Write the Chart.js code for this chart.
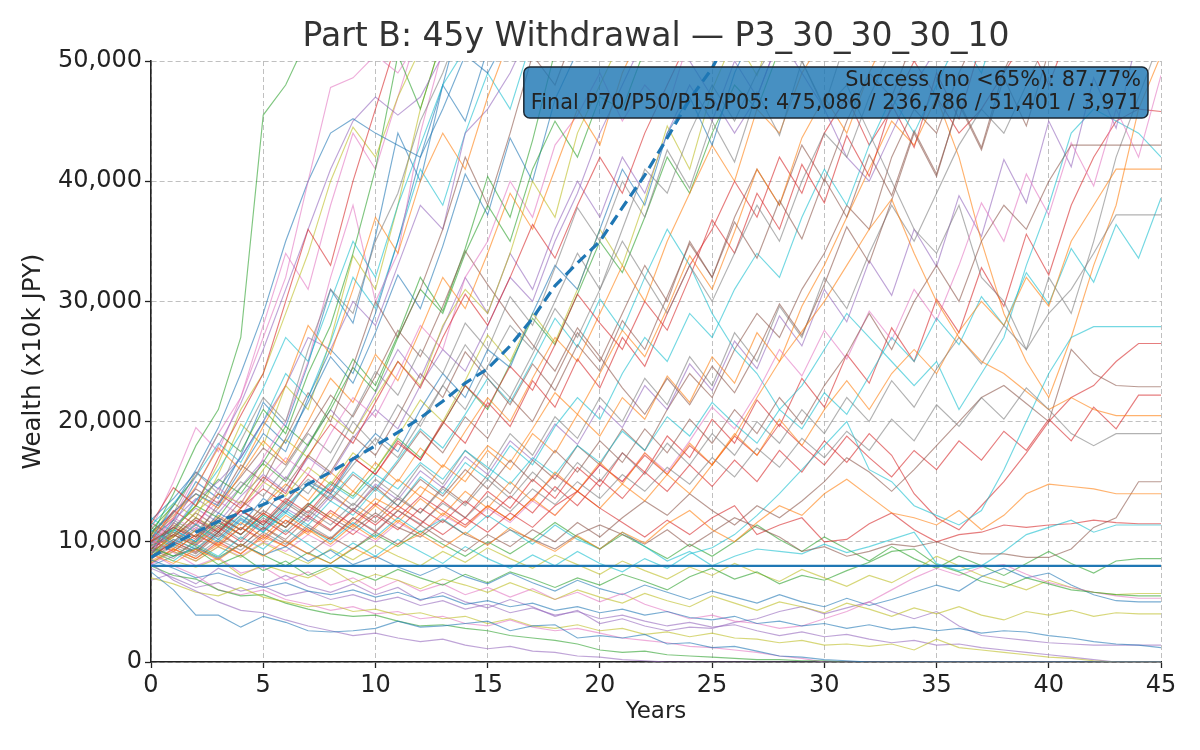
<!DOCTYPE html>
<html>
<head>
<meta charset="utf-8">
<script src="https://cdn.jsdelivr.net/npm/chart.js@4.4.1/dist/chart.umd.min.js"></script>
<style>
  html, body { margin: 0; padding: 0; background: #fff; }
  #wrap { width: 1200px; height: 750px; }
</style>
</head>
<body>
<div id="wrap"><canvas id="wealthChart"></canvas></div>
<script>
// values in thousands of (x10k JPY)
const UNIT = 1000;
const YEARS = [0,1,2,3,4,5,6,7,8,9,10,11,12,13,14,15,16,17,18,19,20,21,22,23,24,25,26,27,28,29,30,31,32,33,34,35,36,37,38,39,40,41,42,43,44,45];
const Y_TICKS = [0, 10000, 20000, 30000, 40000, 50000];
const THRESHOLD = 8.0;

const MEDIAN = [8.7,9.8,10.8,11.7,12.4, 13.1,13.9,14.8,15.8,16.9, 18.0,19.1,20.3,21.7,23.2, 24.4,26.3,28.6,31.3,33.2, 35.0,37.8,40.5,43.6,46.8, 49.4,53,57,62,67, 72,78,84,90,97, 104,112,121,131,142, 154,168,183,199,217, 237];

const LOW_PATHS = [
  [7.5,6.0,3.9,3.9,2.9, 3.8,3.3,2.6,2.5,2.6, 2.8,3.4,2.9,3.0,3.2, 3.4,2.6,3.0,3.1,2.0, 2.2,2.0,2.3,1.5,1.6, 1.2,1.3,0.9,0.5,0.4, 0.2,0.1,0,0,0, 0,0,0,0,0, 0,0,0,0,0, 0],
  [8.2,6.8,5.9,5.0,4.3, 4.1,3.5,3.0,2.6,2.2, 2.4,2.0,1.7,1.9,1.4, 1.1,1.3,0.9,0.8,0.5, 0.4,0.2,0.1,0,0, 0,0,0,0,0, 0,0,0,0,0, 0,0,0,0,0, 0,0,0,0,0, 0],
  [7.0,6.5,5.8,5.5,6.2, 5.4,5.0,4.6,4.8,4.2, 4.4,3.9,4.1,3.6,3.8, 3.2,3.6,3.0,2.8,3.1, 2.6,2.8,2.3,2.5,2.1, 2.4,2.0,1.9,1.6,1.8, 1.4,1.5,1.3,1.5,1.0, 1.9,1.2,1.0,0.8,0.6, 0.4,0.3,0.1,0,0, 0],
  [8.0,7.2,6.9,6.0,5.5, 5.6,4.9,4.4,4.0,3.8, 3.9,3.4,3.0,3.1,2.8, 2.6,2.2,2.0,1.8,1.5, 1.0,0.8,0.9,0.6,0.5, 0.4,0.3,0.2,0.2,0.1, 0.1,0,0,0,0, 0,0,0,0,0, 0,0,0,0,0, 0],
  [9.0,8.0,7.2,6.0,5.6, 6.0,5.2,4.8,4.3,4.6, 4.0,4.2,3.6,3.8,3.2, 3.0,3.5,2.9,2.6,2.8, 2.4,2.0,1.8,1.6,1.3, 1.2,1.0,0.8,0.5,0.3, 0,0,0,0,0, 0,0,0,0,0, 0,0,0,0,0, 0],
  [8.5,7.8,7.0,7.4,6.8, 6.2,6.6,5.9,5.6,6.0, 5.4,5.8,5.2,5.5,4.8, 5.1,4.6,4.9,4.3,4.6, 4.1,4.4,3.9,4.2,3.7, 3.5,3.8,3.2,3.4,3.0, 3.2,2.8,3.1,2.7,2.9, 2.6,2.8,2.4,2.6,2.5, 2.2,2.0,1.7,1.5,1.4, 1.2],
  [7.8,7.0,6.2,6.6,5.9, 6.3,5.5,5.9,5.2,5.6, 5.0,5.4,4.7,5.1,4.4, 4.8,4.1,4.5,3.9,4.2, 3.6,3.9,3.4,3.0,3.3, 2.9,3.1,2.6,2.2,2.5, 2.1,2.3,1.9,1.6,1.8, 1.4,1.5,1.2,1.0,0.8, 0.6,0.4,0.2,0,0, 0],
  [9.2,8.4,7.9,8.6,7.2, 8.1,7.5,7.0,7.8,6.6, 7.3,6.8,6.1,6.9,6.4, 5.8,6.6,5.9,5.2,6.0, 5.4,4.9,5.7,5.1,4.6, 5.5,4.9,4.3,5.0,4.6, 4.1,4.9,4.4,3.8,4.5, 4.0,4.6,3.9,3.5,4.2, 3.9,4.3,3.8,4.1,4.0, 4.0],
  [9.5,8.8,9.4,8.1,8.9, 7.6,8.4,7.2,8.0,7.5, 6.8,7.7,7.0,6.4,7.3, 6.6,7.5,6.9,6.2,7.0, 6.4,7.3,6.7,6.0,7.1, 7.8,6.9,7.5,6.5,7.2, 6.8,7.6,8.3,9.2,9.4, 8.1,7.5,6.7,6.2,7.0, 6.5,6.0,5.8,5.6,5.5, 5.5],
  [10.2,9.1,8.0,8.7,7.4, 7.9,6.8,7.5,6.4,7.0, 6.0,6.8,5.9,6.5,5.6, 6.2,5.4,6.1,5.2,5.8, 5.0,5.7,4.8,4.2,3.6, 3.9,3.4,3.2,2.8,3.0, 3.6,4.2,5.0,6.0,7.0, 7.8,7.2,7.9,8.1,7.3, 6.6,6.2,5.8,5.5,5.3, 5.3],
  [8.0,8.8,9.5,8.6,9.8, 8.9,9.6,8.4,9.3,8.1, 8.8,7.9,7.2,8.0,7.1, 6.5,7.4,6.6,5.9,6.8, 6.1,5.6,6.4,5.8,5.2, 5.9,5.4,4.9,5.6,5.0, 4.6,5.3,4.7,5.2,5.8, 6.4,5.9,7.1,7.8,7.0, 7.4,6.4,5.6,5.1,5.0, 5.0],
  [6.8,7.4,6.5,7.8,7.0, 6.4,7.2,6.3,5.8,6.5, 5.6,6.2,5.1,5.8,5.0, 4.5,5.2,4.6,3.8,4.3, 3.2,3.6,3.0,2.6,2.9, 2.8,3.3,3.6,4.2,4.6, 4.0,4.5,5.0,4.2,3.6, 4.2,3.0,2.2,2.0,1.8, 1.6,1.5,1.4,1.4,1.4, 1.4],
  [8.3,9.2,8.4,9.6,8.7, 9.9,9.0,8.2,9.4,8.5, 9.7,8.8,8.0,9.2,8.3, 9.5,8.6,7.8,8.9,8.1, 7.3,8.4,7.6,6.9,7.9, 7.2,8.2,7.4,6.7,7.7, 7.0,6.3,7.2,6.6,7.6, 8.8,8.0,7.2,6.6,6.0, 6.8,6.2,5.8,5.6,5.7, 5.7],
  [9.7,10.6,9.6,8.7,9.8, 8.9,8.0,9.1,8.2,9.4, 10.6,9.6,10.9,9.8,8.8, 10.0,9.0,10.2,11.6,10.4, 9.4,10.6,9.6,8.6,9.8, 8.8,10.0,11.4,10.2,9.2, 10.4,9.4,8.4,9.6,8.6, 7.8,8.8,8.0,7.2,8.2, 9.2,8.2,7.4,8.4,8.6, 8.6]
];

const MID_PATHS = [
  [9.0,8.2,9.4,8.5,9.8, 8.8,10.1,9.0,8.2,9.5, 8.6,9.8,10.6,9.5,10.8, 9.7,11.2,10.1,9.2,10.5, 9.4,10.8,9.9,11.5,12.6, 11.0,10.0,11.6,13.0,12.2, 14.0,15.2,13.8,12.4,12.0, 11.4,12.6,11.0,12.2,14.0, 14.8,14.6,14.4,14.0,14.0, 14.0],
  [10.0,11.2,10.4,12.0,11.0, 12.6,11.5,13.2,12.0,11.0, 12.4,11.2,10.4,11.8,10.6, 9.8,11.0,10.2,9.4,10.6, 11.4,10.6,9.8,11.0,9.6, 10.8,12.0,11.2,10.4,9.2, 9.6,8.8,9.2,9.8,9.6, 10.0,9.3,9.0,9.0,8.7, 8.7,9.4,11.2,12.0,15.0, 15.0],
  [11.0,9.8,11.5,10.2,12.0, 10.8,12.4,11.2,10.0,11.6, 10.4,12.0,10.8,11.9,10.6, 12.2,11.0,9.8,11.4,10.2, 9.4,10.8,9.6,8.4,9.2, 8.0,8.8,9.4,9.2,9.0, 9.8,9.1,9.6,10.2,10.8, 8.2,7.6,8.0,9.2,10.6, 11.2,11.8,10.8,11.4,11.4, 11.4],
  [9.4,10.6,9.7,11.2,10.0, 11.8,10.6,12.2,11.0,12.6, 11.4,13.0,11.8,10.6,12.0, 10.8,12.4,11.2,13.0,14.2, 12.8,11.6,10.4,11.8,10.6, 12.0,13.0,10.6,11.4,12.0, 10.0,10.2,11.5,12.4,11.0, 10.0,10.6,10.8,11.4,11.2, 11.4,11.5,11.8,11.6,11.5, 11.5],
  [8.6,9.6,8.8,10.2,9.3, 10.8,9.8,11.4,10.3,12.0, 10.9,12.6,11.5,13.2,12.0, 13.8,12.5,14.4,13.1,15.0, 13.6,15.6,14.2,16.2,14.8, 17.0,15.4,17.8,16.2,18.6, 17.0,19.2,17.6,20.2,18.4, 21.4,19.6,22.0,20.2,22.8, 21.0,19.0,18.0,19.0,19.0, 19.0],
  [10.5,9.4,11.0,9.8,11.6, 10.4,12.2,11.0,9.8,11.4, 10.2,11.8,10.6,12.4,11.2, 13.0,11.8,13.6,12.2,14.2, 12.8,14.8,13.4,15.6,14.0, 16.4,18.8,22.0,25.0,27.5, 30.0,33.0,36.0,38.5,34.0, 30.0,27.0,25.0,24.0,22.5, 21.0,22.0,21.0,20.5,20.5, 20.5],
  [8.8,10.0,9.1,10.8,9.6, 11.2,10.0,9.0,10.4,9.4, 10.8,9.8,11.4,10.2,9.2, 10.6,9.6,11.0,10.0,11.6, 10.4,12.0,13.4,12.2,14.0, 12.6,11.4,13.0,12.0,13.4, 15.0,17.0,15.8,14.2,16.0, 18.0,20.0,22.0,23.0,21.5, 20.0,26.0,24.0,23.0,22.9, 22.9],
  [9.2,8.4,9.8,8.8,10.4, 9.4,11.0,9.8,8.6,9.9, 8.8,10.2,9.2,8.2,9.6, 8.6,7.8,8.9,8.0,9.2, 8.2,7.5,8.6,7.8,9.0, 9.5,10.6,12.2,14.0,16.0, 18.0,20.0,16.0,15.0,13.0, 12.2,11.4,12.6,16.0,20.0, 24.0,27.0,27.9,27.9,27.9, 27.9],
  [10.0,11.2,10.2,11.8,10.6, 12.4,11.2,13.0,11.8,10.6, 12.2,11.0,12.8,11.6,13.4, 12.0,13.8,12.4,14.6,13.0, 15.2,13.6,15.8,14.2,16.4, 14.6,16.8,15.0,17.6,15.8, 18.4,16.6,19.0,17.2,14.0, 12.0,11.0,13.0,15.0,17.4, 20.0,22.0,23.0,25.0,26.5, 26.5],
  [9.6,10.8,9.8,11.4,10.2, 12.0,10.8,12.6,11.4,13.2, 12.0,13.8,12.4,14.4,13.0, 15.2,13.6,15.8,14.2,16.6, 15.0,17.4,15.6,18.2,16.4, 19.0,17.2,20.0,18.2,21.0, 19.0,22.0,20.0,23.4,21.2, 24.4,27.0,24.8,28.0,26.0, 29.0,31.0,34.0,37.2,37.2, 37.2],
  [10.2,9.2,10.6,9.6,11.2, 10.0,11.8,10.6,12.4,11.2, 13.0,11.6,13.6,12.2,14.2, 12.8,15.0,13.4,15.8,14.2, 16.6,14.8,17.4,15.6,18.2, 16.4,19.0,17.2,20.2,18.0, 21.0,23.4,21.0,24.0,26.0, 24.0,27.5,30.0,28.0,32.0, 29.6,35.0,38.0,41.0,41.0, 41.0],
  [11.6,10.4,12.0,10.8,12.6, 11.4,13.2,12.0,14.0,12.6, 14.6,13.0,15.2,13.8,16.0, 14.4,16.8,15.0,17.6,15.8, 18.4,16.6,19.4,17.4,20.2, 18.2,21.0,19.0,22.0,19.8, 23.0,25.6,29.0,26.0,30.0, 33.0,30.0,35.0,38.0,36.0, 40.0,43.0,43.0,43.0,43.0, 43.0],
  [9.9,11.0,10.0,11.6,10.6, 12.2,11.2,13.0,14.8,13.6, 15.6,14.4,16.6,15.2,17.6, 16.2,14.8,17.0,15.6,18.0, 16.6,19.2,17.6,20.4,18.8, 21.6,19.8,18.2,21.0,19.4, 22.4,20.6,23.8,27.0,25.0, 28.6,26.4,30.4,28.0,32.4, 29.8,34.4,31.6,36.4,33.6, 38.6],
  [10.1,9.2,10.6,9.7,11.2, 10.2,11.8,10.8,12.6,11.4, 13.2,12.0,13.8,12.6,11.4, 13.0,11.8,13.6,15.6,14.2, 16.4,15.0,17.2,15.6,18.0, 16.4,18.8,17.2,19.8,18.0, 16.4,18.8,17.0,15.4,17.6, 16.0,18.4,16.8,19.2,17.6, 20.2,18.4,21.2,19.4,22.2, 22.2],
  [8.1,9.2,8.4,9.6,8.8, 10.0,9.2,10.6,9.6,11.0, 10.0,11.6,10.6,12.2,11.2, 12.8,11.6,13.4,12.2,14.2, 16.4,15.0,17.4,15.8,18.4, 21.2,19.4,22.4,26.0,23.8, 27.6,25.2,29.2,26.8,31.0, 28.4,33.0,38.2,35.0,40.6, 37.2,43.2,39.6,46.0,42.0, 48.8]
];

const HIGH_PATHS = [
  [10.5,14.0,18.0,21.0,27.0, 45.5,48.0,52,58,66, 75,85,95],
  [9.5,12.0,15.5,19.0,22.0, 27.0,32.0,40.0,47.8,48.6, 50.5,49.0,52,56,61, 70,80],
  [10.2,13.0,16.0,19.5,24.0, 29.0,35.0,40.0,44.0,45.2, 44.0,43.0,42.0,46.0,50.5, 49.0,52.5,56,60,66],
  [9.0,11.5,14.5,18.0,21.5, 26.0,31.0,36.0,41.0,45.0, 47.0,45.5,47.0,50.5,53, 57,62],
  [8.5,11.0,13.0,16.5,21.0, 24.0,29.0,34.0,40.0,44.5, 42.0,47.0,51,55,60],
  [11.0,13.0,15.5,19.0,17.5, 21.0,19.0,24.0,28.0,34.0, 41.0,50.5,46.0,52,57, 63],
  [9.8,12.0,11.0,14.5,13.0, 17.0,20.0,25.0,32.0,38.0, 30.0,34.0,44.0,51,56, 62],
  [10.8,12.5,14.0,13.0,16.0, 19.0,17.5,22.0,26.0,24.0, 29.0,35.0,42.0,48.0,45.0, 51.0,56,61,67],
  [8.4,11.0,13.5,15.0,17.0, 20.0,23.0,27.0,26.0,30.0, 28.0,33.0,38.0,36.0,44.0, 46.0,49.0,53,58,64],
  [9.0,10.5,12.5,14.0,13.2, 16.0,18.5,17.0,20.5,19.0, 22.0,25.0,23.0,28.0,31.0, 29.0,34.0,40.0,37.0,44.0, 48.0,52,57,63],
  [10.0,11.0,13.0,12.0,14.5, 16.5,15.0,18.0,21.0,24.5, 22.5,27.0,31.0,29.0,34.0, 38.0,35.0,41.0,45.0,42.0, 47.0,46.0,51,55,60],
  [10.8,9.8,11.6,13.4,12.2, 14.8,17.0,15.6,19.0,22.0, 20.4,24.0,28.0,26.0,32.0, 35.0,40.0,37.0,43.0,45.5, 49.0,45.0,48.0,46.0,52.0, 55,60,66],
  [9.4,11.0,10.0,12.4,11.4, 13.6,12.4,15.0,14.0,16.8, 19.0,17.5,21.0,24.0,22.0, 26.0,24.5,29.0,33.0,31.0, 36.0,41.0,38.0,44.0,47.0, 43.0,49.0,53,58,64],
  [9.8,11.2,12.8,11.6,13.8, 15.6,14.2,17.0,15.6,18.6, 21.0,19.4,23.0,26.0,24.2, 28.0,32.0,30.0,35.0,39.0, 44.0,48.0,52,55,50.0, 47.0,44.0,47.0,52,49.0, 46.0,42.0,40.0,44.0,48.0, 51,55,60],
  [8.8,10.2,9.4,11.0,12.6, 11.4,13.4,15.2,14.0,16.4, 18.6,17.0,20.0,23.0,21.0, 24.6,28.0,26.0,30.0,34.0, 31.0,36.0,41.0,39.0,44.0, 48.0,45.0,49.0,52,50.0, 46.0,48.0,44.0,40.0,36.0, 34.0,38.0,32.0,30.0,26.0, 32.0,29.0,35.0,42.0,47.0, 52.0],
  [10.4,9.6,11.0,10.0,11.8, 10.8,12.6,11.4,13.4,12.2, 14.4,13.0,15.4,14.0,16.6, 15.2,18.0,16.4,19.6,22.0, 20.2,24.0,27.0,25.0,29.0, 27.0,31.0,34.0,32.0,37.0, 41.0,38.0,43.0,47.0,44.0, 48.0,52,49.0,55,58, 62,66],
  [9.6,10.8,9.9,11.6,10.6, 12.4,11.2,13.2,12.0,14.2, 13.0,15.2,13.8,16.4,15.0, 17.6,16.0,19.0,17.4,20.6, 18.8,22.0,20.2,23.8,21.6, 25.4,23.2,27.4,25.0,29.6, 33.0,37.0,41.0,45.0,43.0, 47.0,42.0,35.0,29.0,25.0, 22.0,27.0,33.0,38.0,46.0, 50.5],
  [9.2,10.4,11.8,10.8,12.8, 14.4,13.2,15.6,14.2,17.0, 15.6,18.4,16.8,20.0,18.2, 21.6,19.6,23.4,21.2,25.2, 22.8,27.0,24.6,29.0,33.0, 36.0,40.0,37.0,42.0,39.0, 44.0,47.0,43.0,46.0,50.0, 47.0,44.0,46.0,49.0,52, 48.0,53,57,60,64, 68],
  [8.6,9.8,9.0,10.6,9.6, 11.2,10.2,12.0,10.9,12.8, 11.6,13.6,12.4,14.6,13.2, 15.6,14.0,16.8,15.2,18.0, 16.4,19.4,17.6,21.0,24.0, 22.0,26.0,29.0,27.0,31.0, 34.0,38.0,36.0,42.0,46.0, 44.0,49.0,53,58,63],
  [11.2,10.0,11.8,10.6,12.6, 11.4,13.4,12.2,14.4,13.0, 15.2,13.8,16.4,14.8,17.6, 16.0,19.0,17.2,20.4,18.6, 22.0,20.0,23.6,21.4,25.4, 23.0,27.4,25.0,29.6,27.0, 32.0,29.4,34.0,38.0,35.0, 39.0,43.0,46.0,44.0,48.0, 52,50.0,55,59,63, 68],
  [9.0,10.2,9.4,10.8,12.2, 11.2,13.0,14.8,13.6,15.8, 14.4,16.8,19.4,17.8,20.6, 23.6,21.6,25.0,28.6,26.2, 30.2,27.6,32.0,36.0,33.0, 29.0,26.0,24.0,21.0,23.0, 26.0,29.0,27.0,25.0,23.0, 25.0,21.0,24.0,27.0,33.0, 38.0,44.0,46.0,45.0,44.0, 42.0],
  [10.0,11.4,10.4,12.2,11.0, 13.0,14.8,13.4,15.8,14.2, 16.6,15.0,17.8,16.2,19.2, 22.0,20.0,23.6,27.0,25.0, 29.0,33.0,30.0,35.0,39.0, 43.0,40.0,46.0,44.0,49.0, 52,55,50.0,54,58, 62,66],
  [9.6,8.8,10.0,11.6,10.6, 12.2,11.2,13.0,15.0,13.8, 16.0,18.6,17.0,19.8,23.0, 21.0,24.8,28.6,26.4,30.6, 35.0,32.4,37.0,42.0,39.0, 44.0,48.0,46.0,51,55, 60,65],
  [8.2,9.4,8.6,10.0,9.0, 10.6,9.6,11.2,10.2,12.0, 10.8,12.6,11.4,13.4,12.0, 14.2,12.8,15.2,13.6,16.2, 14.6,17.4,15.8,18.8,17.0, 20.2,18.2,21.8,19.6,23.6, 21.2,25.6,23.2,27.8,25.0, 30.2,27.4,32.8,29.6,35.6, 32.2,38.0,42.0,45.0,46.0, 45.8],
  [10.4,11.8,13.6,12.4,14.6, 16.8,15.2,18.2,21.0,19.0, 22.4,26.0,23.6,27.8,32.0, 29.0,34.0,31.0,36.0,40.0, 37.0,42.0,39.0,44.0,48.0, 45.0,50.0,47.0,52,56, 60,65],
  [8.8,10.0,11.4,10.4,12.2, 11.0,12.8,14.8,13.4,15.6, 14.2,16.6,19.2,17.4,20.4, 18.6,22.0,20.0,23.6,27.4, 25.0,29.0,33.0,30.0,35.0, 32.0,37.0,41.0,38.0,43.0, 40.0,45.0,49.0,47.0,52, 56,60]
];

const UPPER_PATHS = [
  [11.5,14.5,13.0,17.0,20.5, 24.0,30.0,36.0,33.0,40.0, 46.0,52,58,64],
  [9.8,12.4,15.8,14.0,18.4, 22.0,20.0,26.0,31.0,29.0, 35.0,39.0,45.0,49.0,54, 60],
  [10.6,12.0,14.6,17.8,16.0, 19.6,23.0,28.0,25.6,31.0, 37.0,34.0,40.0,44.0,41.0, 47.0,52,57,63],
  [8.9,11.6,10.4,13.2,16.4, 15.0,18.6,22.4,20.0,24.6, 30.0,27.0,31.0,36.0,42.0, 38.0,44.0,50.5,48.0,53, 58],
  [12.0,10.8,13.4,16.0,19.0, 22.8,27.0,25.0,30.0,35.0, 32.0,38.0,43.0,48.0,51, 56],
  [10.0,12.6,11.4,14.0,12.8, 15.4,14.0,17.2,19.8,18.2, 21.6,25.0,22.8,27.0,30.6, 28.0,32.0,36.4,33.6,38.0, 42.0,39.0,44.0,48.0,52, 56],
  [9.4,8.6,10.2,12.0,11.0, 13.0,15.4,14.0,16.6,20.0, 18.0,21.4,19.6,23.0,26.4, 24.0,22.0,25.6,29.4,27.0, 31.0,35.0,32.0,29.0,33.0, 30.0,34.0,38.0,35.0,40.0, 44.0,42.0,47.0,51,55, 60],
  [10.8,12.2,14.0,12.8,15.6, 18.4,16.6,20.0,23.6,21.6, 25.6,23.4,27.6,32.0,29.4, 34.0,39.0,36.0,41.0,46.0, 43.0,49.0,53,58],
  [9.0,10.6,12.4,11.2,13.4, 12.2,14.6,17.2,15.8,18.8, 17.2,20.4,24.0,22.0,25.8, 23.6,21.4,24.8,22.6,26.4, 24.2,28.4,26.0,30.4,34.8, 32.0,36.6,33.6,38.4,35.2, 40.2,37.0,42.2,38.8,44.2, 40.6,46.4,42.6,48.6,44.6, 50.8,54,58,62,66, 70],
  [11.4,13.2,15.4,18.2,16.6, 20.0,24.0,22.0,26.6,32.0, 29.4,35.0,41.0,38.0,44.0, 49.0,46.0,52,57,62],
  [8.7,10.0,9.2,10.8,12.6, 11.6,13.6,12.4,14.6,17.0, 15.6,18.2,16.8,19.8,23.0, 21.2,24.6,22.6,26.4,30.6, 28.2,26.0,30.0,27.6,32.0, 36.8,34.0,39.0,36.0,41.4, 38.2,43.8,40.4,46.4,42.8, 49.0,45.2,51.6,55,60],
  [10.3,11.8,10.8,12.8,15.0, 13.8,16.2,19.0,17.4,20.6, 24.2,22.2,26.0,24.0,28.2, 26.0,30.4,28.0,32.8,37.8, 35.0,40.0,37.0,42.6,39.4, 45.0,41.6,47.4,43.8,50.0, 46.2,52,56,60],
  [8.4,9.4,8.6,9.8,9.0, 10.4,9.6,11.0,10.2,11.8, 13.6,12.6,14.6,13.4,15.6, 18.0,16.6,19.4,22.4,20.6, 24.0,27.6,25.4,29.4,33.8, 31.0,35.8,41.0,38.0,43.6, 47.0,44.0,49.0,53,58],
  [10.7,12.4,14.4,13.2,15.4, 17.8,16.4,19.2,22.2,20.4, 23.8,27.6,25.4,29.6,34.2, 31.4,28.8,26.4,24.2,27.8, 25.4,22.8,20.6,23.6,21.4, 24.6,22.4,25.8,29.8,27.2, 31.4,36.2,33.2,38.4,44.0, 40.4,46.6,42.8,49.2,53, 57,62],
  [9.1,10.4,12.0,11.0,12.8, 15.0,13.8,16.2,14.8,17.4, 16.0,18.8,21.8,20.0,23.4, 27.2,25.0,29.0,26.6,31.0, 36.0,33.0,38.4,44.6,41.0, 47.6,52,48.8,54,59],
  [11.8,13.6,15.8,14.4,17.0, 20.0,18.2,21.6,25.4,23.2, 27.4,32.2,29.4,34.6,40.6, 37.2,43.6,40.0,46.8,50.8, 55,60],
  [9.6,11.2,13.0,15.2,14.0, 16.6,19.6,18.0,21.4,25.2, 23.0,27.2,32.0,29.2,34.4, 40.4,37.0,43.4,50.8,55, 60],
  [10.6,9.7,11.2,10.2,11.9, 10.9,12.8,11.7,13.8,12.6, 14.8,13.5,15.9,14.5,17.1, 15.6,18.4,16.8,19.8,18.1, 21.3,19.5,23.0,21.0,24.8, 22.6,26.7,24.4,28.8,26.3, 31.0,28.3,33.4,30.5,36.0, 32.9,38.8,35.4,41.8,38.2, 45.0,41.2,48.6,44.4,52.4, 56],
  [11.0,15.0,19.5,17.5,22.0, 28.0,34.0,31.0,38.0,44.0, 41.0,47.0,53,58],
  [10.3,13.2,12.0,15.6,19.8, 18.0,23.0,21.0,26.8,33.8, 31.0,38.0,46.0,52,58],
  [9.3,11.8,15.0,13.6,17.2, 21.6,19.6,24.8,31.0,28.2, 35.4,44.0,40.0,48.0,55, 62]
];

const TITLE = 'Part B: 45y Withdrawal — P3_30_30_30_10';
const X_LABEL = 'Years';
const Y_LABEL = 'Wealth (x10k JPY)';
const BOX_LINES = [
  'Success (no <65%): 87.77%',
  'Final P70/P50/P15/P05: 475,086 / 236,786 / 51,401 / 3,971'
];

const TAB10 = ['#1f77b4','#ff7f0e','#2ca02c','#d62728','#9467bd','#8c564b','#e377c2','#7f7f7f','#bcbd22','#17becf'];

function hexToRgba(hex, a) {
  const n = parseInt(hex.slice(1), 16);
  return `rgba(${(n >> 16) & 255}, ${(n >> 8) & 255}, ${n & 255}, ${a})`;
}

function toPoints(values) {
  return values.map((v, i) => ({ x: YEARS[i], y: v * UNIT }));
}

Chart.defaults.font.family = '"DejaVu Sans", sans-serif';
Chart.defaults.color = '#222';

// interleave the groups so the colours cycle across them
const allPaths = [];
const groups = [LOW_PATHS, MID_PATHS, HIGH_PATHS, UPPER_PATHS];
let k = 0;
while (groups.some(g => g.length > k)) {
  groups.forEach(g => { if (g[k]) allPaths.push(g[k]); });
  k++;
}

const pathSets = allPaths.map((p, i) => ({
  data: toPoints(p),
  borderColor: hexToRgba(TAB10[i % 10], 0.6),
  borderWidth: 1.15,
  pointRadius: 0,
  tension: 0
}));

// first datasets are drawn on top
const datasets = [
  {
    data: toPoints(MEDIAN),
    borderColor: '#1f77b4',
    borderWidth: 3.2,
    borderDash: [11, 6],
    pointRadius: 0
  },
  {
    data: YEARS.map(x => ({ x: x, y: THRESHOLD * UNIT })),
    borderColor: '#1f77b4',
    borderWidth: 2.2,
    pointRadius: 0
  }
].concat(pathSets);

const titleAndBox = {
  id: 'titleAndBox',
  afterDraw(chart) {
    const { ctx, chartArea } = chart;
    ctx.save();
    // title centred over the plot area
    ctx.font = '33px "DejaVu Sans"';
    ctx.fillStyle = '#333';
    ctx.textAlign = 'center';
    ctx.textBaseline = 'middle';
    ctx.fillText(TITLE, (chartArea.left + chartArea.right) / 2, 37);

    // stats box
    ctx.font = '20.8px "DejaVu Sans"';
    const textW = Math.max(...BOX_LINES.map(t => ctx.measureText(t).width));
    const padX = 7;
    const right = chartArea.right - 13;
    const top = chartArea.top + 6;
    const boxW = textW + padX * 2;
    const boxH = 51;
    ctx.beginPath();
    ctx.roundRect(right - boxW, top, boxW, boxH, 6);
    ctx.fillStyle = 'rgba(31, 119, 180, 0.82)';
    ctx.fill();
    ctx.lineWidth = 1.5;
    ctx.strokeStyle = '#1c2833';
    ctx.stroke();
    ctx.fillStyle = '#222';
    ctx.textAlign = 'right';
    BOX_LINES.forEach((t, i) => ctx.fillText(t, right - padX, top + 13.5 + 23 * i));
    ctx.restore();
  }
};

const gridOpts = {
  color: 'rgba(176, 176, 176, 0.8)',
  lineWidth: 1,
  drawTicks: true,
  tickLength: 6,
  tickColor: '#222',
  tickWidth: 1.3
};

new Chart(document.getElementById('wealthChart'), {
  type: 'line',
  data: { datasets: datasets },
  plugins: [titleAndBox],
  options: {
    responsive: true,
    maintainAspectRatio: false,
    animation: false,
    layout: { padding: { left: 0, right: 39, top: 61, bottom: 0 } },
    plugins: {
      legend: { display: false },
      tooltip: { enabled: false },
      title: { display: false }
    },
    scales: {
      x: {
        type: 'linear',
        min: 0,
        max: 45,
        ticks: { stepSize: 5, font: { size: 24 }, color: '#222', padding: 3 },
        grid: gridOpts,
        border: { display: true, color: '#222', width: 1.6, dash: [5, 3] },
        title: { display: true, text: X_LABEL, font: { size: 23 }, color: '#222', padding: { top: 0, bottom: 24 } },
        afterFit(scale) { scale.height = 88; }
      },
      y: {
        type: 'linear',
        min: 0,
        max: 50000,
        afterBuildTicks(scale) { scale.ticks = Y_TICKS.map(v => ({ value: v })); },
        ticks: {
          font: { size: 24 },
          color: '#222',
          padding: 3,
          callback: v => v.toLocaleString('en-US')
        },
        grid: gridOpts,
        border: { display: true, color: '#222', width: 1.6, dash: [5, 3] },
        title: { display: true, text: Y_LABEL, font: { size: 24.5 }, color: '#222', padding: { top: 19, bottom: 0 } },
        afterFit(scale) { scale.width = 151; }
      }
    }
  }
});
</script>
</body>
</html>
